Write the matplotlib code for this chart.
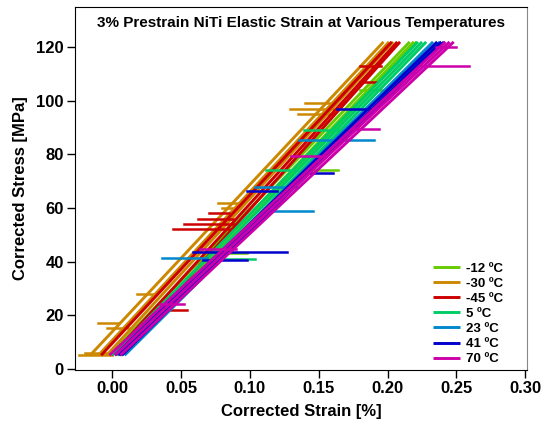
import matplotlib
matplotlib.use("Agg")
import matplotlib.pyplot as plt

plt.rcParams["font.family"] = ["Liberation Sans", "DejaVu Sans"]
plt.rcParams["font.weight"] = "bold"

# temperature series, in legend order
labels = ["-12 ºC", "-30 ºC", "-45 ºC", "5 ºC", "23 ºC", "41 ºC", "70 ºC"]
colors = ["#66CC00", "#CC8800", "#CC0000", "#00CC66", "#0088CC", "#0000CC", "#CC00AA"]

# each loading cycle: strain [%] at low stress, strain [%] at peak stress
stress_low = 5.0
stress_high = 122.0
cycles_m12 = [(-0.002, 0.216), (0.003, 0.219), (0.006, 0.221)]
cycles_m30 = [(-0.016, 0.197), (-0.010, 0.201), (-0.004, 0.204)]
cycles_m45 = [(-0.008, 0.203), (0.000, 0.207), (0.005, 0.209)]
cycles_p05 = [(0.000, 0.222), (0.004, 0.225), (0.007, 0.228)]
cycles_p23 = [(0.004, 0.233), (0.009, 0.238)]
cycles_p41 = [(0.002, 0.236), (0.005, 0.239), (0.007, 0.241)]
cycles_p70 = [(-0.002, 0.242), (0.002, 0.245), (0.006, 0.248)]

# strain jumps: stress [MPa], strain from, strain to
jumps_m12 = [(74, 0.139, 0.164), (43, 0.085, 0.098), (104, 0.180, 0.196)]
jumps_m30 = [(5, -0.024, 0.000), (6, -0.020, -0.004), (15, -0.004, 0.012),
             (17, -0.010, 0.004), (28, 0.018, 0.032),
             (62, 0.077, 0.093), (60, 0.080, 0.090),
             (97, 0.129, 0.165), (95, 0.135, 0.160), (99, 0.140, 0.158)]
jumps_m45 = [(52, 0.044, 0.085), (54, 0.052, 0.090), (56, 0.062, 0.088), (58, 0.070, 0.085),
             (22, 0.030, 0.054), (113, 0.180, 0.195), (107, 0.180, 0.192)]
jumps_p05 = [(89, 0.139, 0.164), (74, 0.112, 0.134), (41, 0.076, 0.104)]
jumps_p23 = [(41.5, 0.036, 0.069), (59, 0.110, 0.146), (68, 0.104, 0.135), (85.5, 0.136, 0.190)]
jumps_p41 = [(43.4, 0.059, 0.127), (40.7, 0.066, 0.098), (66.4, 0.098, 0.120),
             (73, 0.139, 0.160), (97, 0.163, 0.190)]
jumps_p70 = [(113, 0.225, 0.259), (24, 0.035, 0.052), (44.6, 0.064, 0.090),
             (79.5, 0.130, 0.155), (89.5, 0.175, 0.194), (120, 0.235, 0.250)]

all_cycles = [cycles_m12, cycles_m30, cycles_m45, cycles_p05, cycles_p23, cycles_p41, cycles_p70]
all_jumps = [jumps_m12, jumps_m30, jumps_m45, jumps_p05, jumps_p23, jumps_p41, jumps_p70]

fig = plt.figure(figsize=(5.41, 4.28), dpi=100)
ax = fig.add_axes([0.1386, 0.1355, 0.835, 0.848])

for label, color, cycles, jumps in zip(labels, colors, all_cycles, all_jumps):
    for i, (e0, e1) in enumerate(cycles):
        ax.plot([e0, e1], [stress_low, stress_high], color=color, lw=2.1,
                label=label if i == 0 else None, solid_capstyle="butt")
    for s, a, b in jumps:
        ax.plot([a, b], [s, s], color=color, lw=1.8)

ax.set_xlim(-0.027, 0.301)
ax.set_ylim(-0.5, 135)
ax.set_xticks([0.0, 0.05, 0.10, 0.15, 0.20, 0.25, 0.30])
ax.set_xticklabels(["0.00", "0.05", "0.10", "0.15", "0.20", "0.25", "0.30"])
ax.set_yticks([0, 20, 40, 60, 80, 100, 120])
ax.tick_params(direction="out", length=6, width=1, labelsize=12, pad=2,
               top=False, right=False)
for lab in ax.get_xticklabels() + ax.get_yticklabels():
    lab.set_fontweight("bold")
ax.spines["right"].set_color("#888888")

ax.set_xlabel("Corrected Strain [%]", fontsize=12, fontweight="bold", labelpad=6)
ax.set_ylabel("Corrected Stress [MPa]", fontsize=12, fontweight="bold", labelpad=6)
ax.text(0.5, 0.975, "3% Prestrain NiTi Elastic Strain at Various Temperatures",
        transform=ax.transAxes, ha="center", va="top", fontsize=11, fontweight="bold")

leg = ax.legend(loc="lower right", bbox_to_anchor=(0.975, -0.02), frameon=False,
                fontsize=9.5, handlelength=2.0, handletextpad=0.5, labelspacing=0.22)
for t in leg.get_texts():
    t.set_fontweight("bold")

fig.savefig("out.png", dpi=100)
